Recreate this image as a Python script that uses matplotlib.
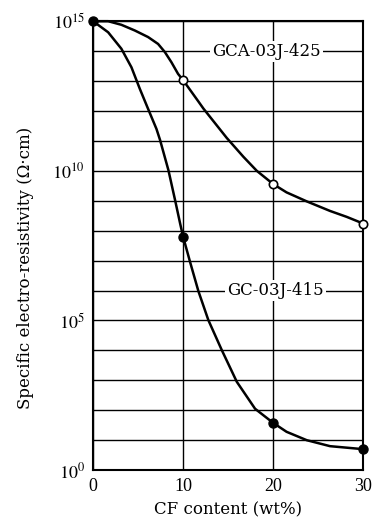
import numpy as np
import matplotlib
matplotlib.use("Agg")
import matplotlib.pyplot as plt

plt.rcParams['font.family'] = ['DejaVu Serif']
plt.rcParams['mathtext.fontset'] = 'stix'

# measured points (log10 of resistivity)
cf_pts = [0, 10, 20, 30]
gca_pts = [15.0, 13.03, 9.56, 8.24]
gc_pts = [15.0, 7.8, 1.58, 0.70]

# curves (x in wt%, log10 resistivity)
gca_cx = [0, 1.67, 3.14, 4.63, 6.11, 7.22, 7.97, 8.7, 9.44, 10, 11.67, 12.26,
          14.85, 16.7, 18.19, 20, 21.5, 23.74, 26.33, 28.2, 30]
gca_cy = [15.0, 15.0, 14.88, 14.69, 14.47, 14.24, 13.97, 13.63, 13.24, 13.03, 12.33, 12.08,
          11.1, 10.47, 10.0, 9.56, 9.28, 8.98, 8.66, 8.46, 8.24]
gc_cx = [0, 1.67, 3.14, 4.26, 5.19, 6.11, 7.04, 7.44, 8.37, 9.11, 9.67, 10, 10.78,
         11.7, 12.81, 14.3, 15.97, 18.0, 20, 21.5, 23.74, 26.33, 30]
gc_cy = [15.0, 14.63, 14.08, 13.46, 12.74, 12.07, 11.40, 11.03, 10.02, 9.02, 8.24, 7.8, 6.95,
         5.98, 5.01, 4.01, 2.95, 2.05, 1.58, 1.28, 1.0, 0.80, 0.70]

fig = plt.figure(figsize=(3.77, 5.30), dpi=100)
ax = fig.add_axes([0.247, 0.113, 0.716, 0.847])

ax.plot(gca_cx, 10.0 ** np.array(gca_cy), color='black', lw=1.8, clip_on=False, zorder=3,
        solid_joinstyle='round')
ax.plot(gc_cx, 10.0 ** np.array(gc_cy), color='black', lw=1.8, clip_on=False, zorder=3,
        solid_joinstyle='round')

ax.plot(cf_pts[1:], 10.0 ** np.array(gca_pts[1:]), 'o', ms=6, mfc='white', mec='black',
        mew=1.2, clip_on=False, zorder=4)
ax.plot(cf_pts, 10.0 ** np.array(gc_pts), 'o', ms=6.5, color='black', clip_on=False, zorder=4)

ax.set_yscale('log')
ax.set_xlim(0, 30)
ax.set_ylim(1, 1e15)
ax.set_xticks([0, 10, 20, 30])
ax.set_yticks([10.0 ** k for k in range(16)])
ax.set_yticklabels(['$10^{%d}$' % k if k % 5 == 0 else '' for k in range(16)])
ax.minorticks_off()
ax.tick_params(length=0, labelsize=13, pad=6)
for lab in ax.get_xticklabels() + ax.get_yticklabels():
    lab.set_family('Liberation Serif')
ax.grid(True, color='black', lw=1.0)
for s in ax.spines.values():
    s.set_linewidth(1.5)

ax.text(19.3, 1e14, 'GCA-03J-425', ha='center', va='center', fontsize=12,
        bbox=dict(facecolor='white', edgecolor='none', pad=1.5), zorder=2.5)
ax.text(20.3, 1e6, 'GC-03J-415', ha='center', va='center', fontsize=12,
        bbox=dict(facecolor='white', edgecolor='none', pad=1.5), zorder=2.5)

ax.set_xlabel('CF content (wt%)', fontsize=12, labelpad=4)
ax.set_ylabel('Specific electro-resistivity (Ω·cm)', fontsize=12)
ax.yaxis.set_label_coords(-0.22, 0.45)

fig.savefig('out.png', dpi=100)
